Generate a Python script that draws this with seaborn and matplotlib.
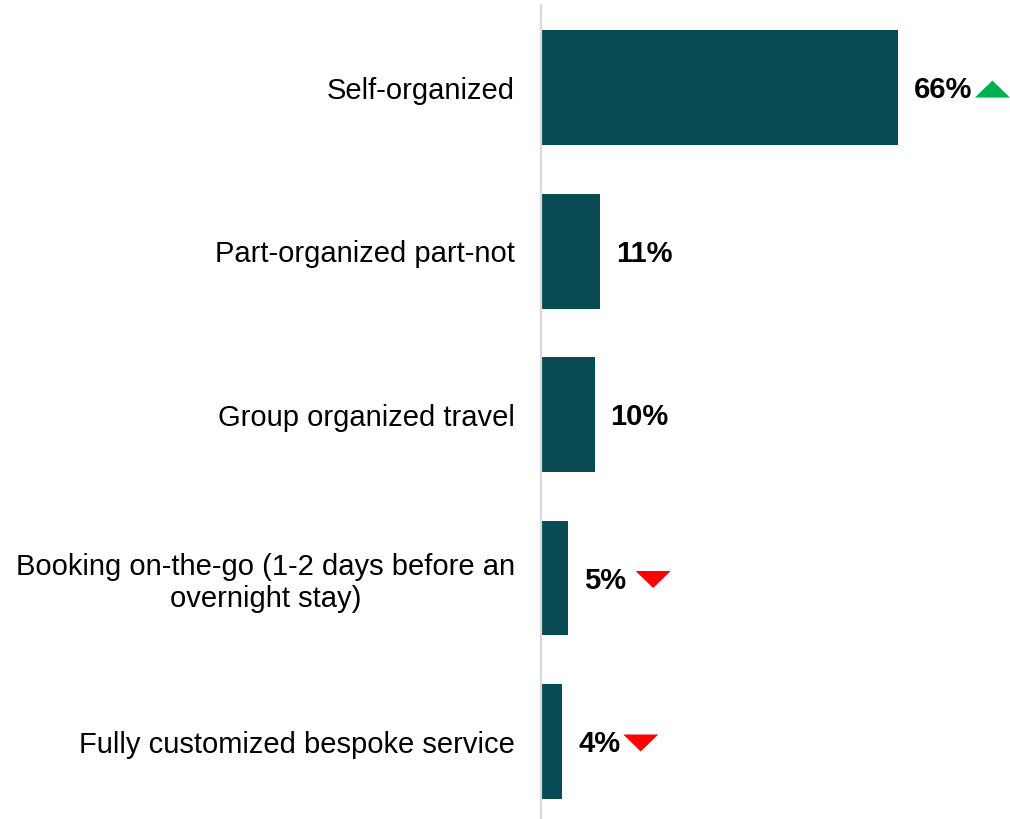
import matplotlib
matplotlib.use("Agg")
import matplotlib.pyplot as plt
from matplotlib.patches import Polygon
from matplotlib.transforms import IdentityTransform
import seaborn as sns
import pandas as pd

# Travel-arrangement shares
categories = [
    "Self-organized",
    "Part-organized part-not",
    "Group organized travel",
    "Booking on-the-go (1-2 days before an\novernight stay)",
    "Fully customized bespoke service",
]
shares = [66, 11, 10, 5, 4]
value_labels = ["66%", "11%", "10%", "5%", "4%"]
trends = ["up", None, None, "down", "down"]

BAR_COLOR = "#094B54"
UP_COLOR = "#00B050"
DOWN_COLOR = "#FF0000"
AXIS_COLOR = "#D9D9D9"

sns.set_theme(style="white")
plt.rcParams["font.family"] = ["Liberation Sans", "DejaVu Sans"]

W, H = 1010, 819
DPI = 100
fig = plt.figure(figsize=(W / DPI, H / DPI), dpi=DPI)
left_px = 540.5
ax = fig.add_axes([left_px / W, 0, (W - left_px) / W, 814 / H])

df = pd.DataFrame({"category": categories, "share": shares})
sns.barplot(data=df, x="share", y="category", orient="h", color=BAR_COLOR,
            saturation=1, width=0.703, linewidth=0, ax=ax)

px_per_unit = 5.41
ax.set_xlim(0, (W - left_px) / px_per_unit)
ax.set_ylim(4.474, -0.505)

for side in ["top", "right", "bottom"]:
    ax.spines[side].set_visible(False)
ax.spines["left"].set_color(AXIS_COLOR)
ax.spines["left"].set_linewidth(1.6)
ax.set_xticks([])
ax.set_xlabel("")
ax.set_ylabel("")
ax.tick_params(axis="y", length=0, pad=18.5, labelsize=21, labelcolor="black")
for lbl in ax.get_yticklabels():
    lbl.set_multialignment("center")
    lbl.set_linespacing(1.2)

# Value labels at the end of each bar
texts = []
for i, (v, lab) in enumerate(zip(shares, value_labels)):
    t = ax.annotate(lab, xy=(v, i), xytext=(16 * 0.72, -2.5 * 0.72), textcoords="offset points",
                    ha="left", va="center", fontsize=21, fontweight="bold", color="black")
    texts.append(t)

# Trend arrows placed just right of the value labels
fig.canvas.draw()
renderer = fig.canvas.get_renderer()
gaps_px = [3, 0, 0, 10, 3]
tri_w, tri_h = 35, 17
for i, (t, trend) in enumerate(zip(texts, trends)):
    if trend is None:
        continue
    bb = t.get_window_extent(renderer)
    yc = ax.transData.transform((0, i))[1] - 1.5
    x0 = bb.x1 + gaps_px[i]
    if trend == "up":
        verts = [(x0, yc - tri_h / 2), (x0 + tri_w, yc - tri_h / 2), (x0 + tri_w / 2, yc + tri_h / 2)]
        col = UP_COLOR
    else:
        verts = [(x0, yc + tri_h / 2), (x0 + tri_w, yc + tri_h / 2), (x0 + tri_w / 2, yc - tri_h / 2)]
        col = DOWN_COLOR
    fig.add_artist(Polygon(verts, closed=True, facecolor=col, edgecolor="none",
                           transform=IdentityTransform(), clip_on=False))

fig.savefig("out.png", dpi=DPI, facecolor="white")
